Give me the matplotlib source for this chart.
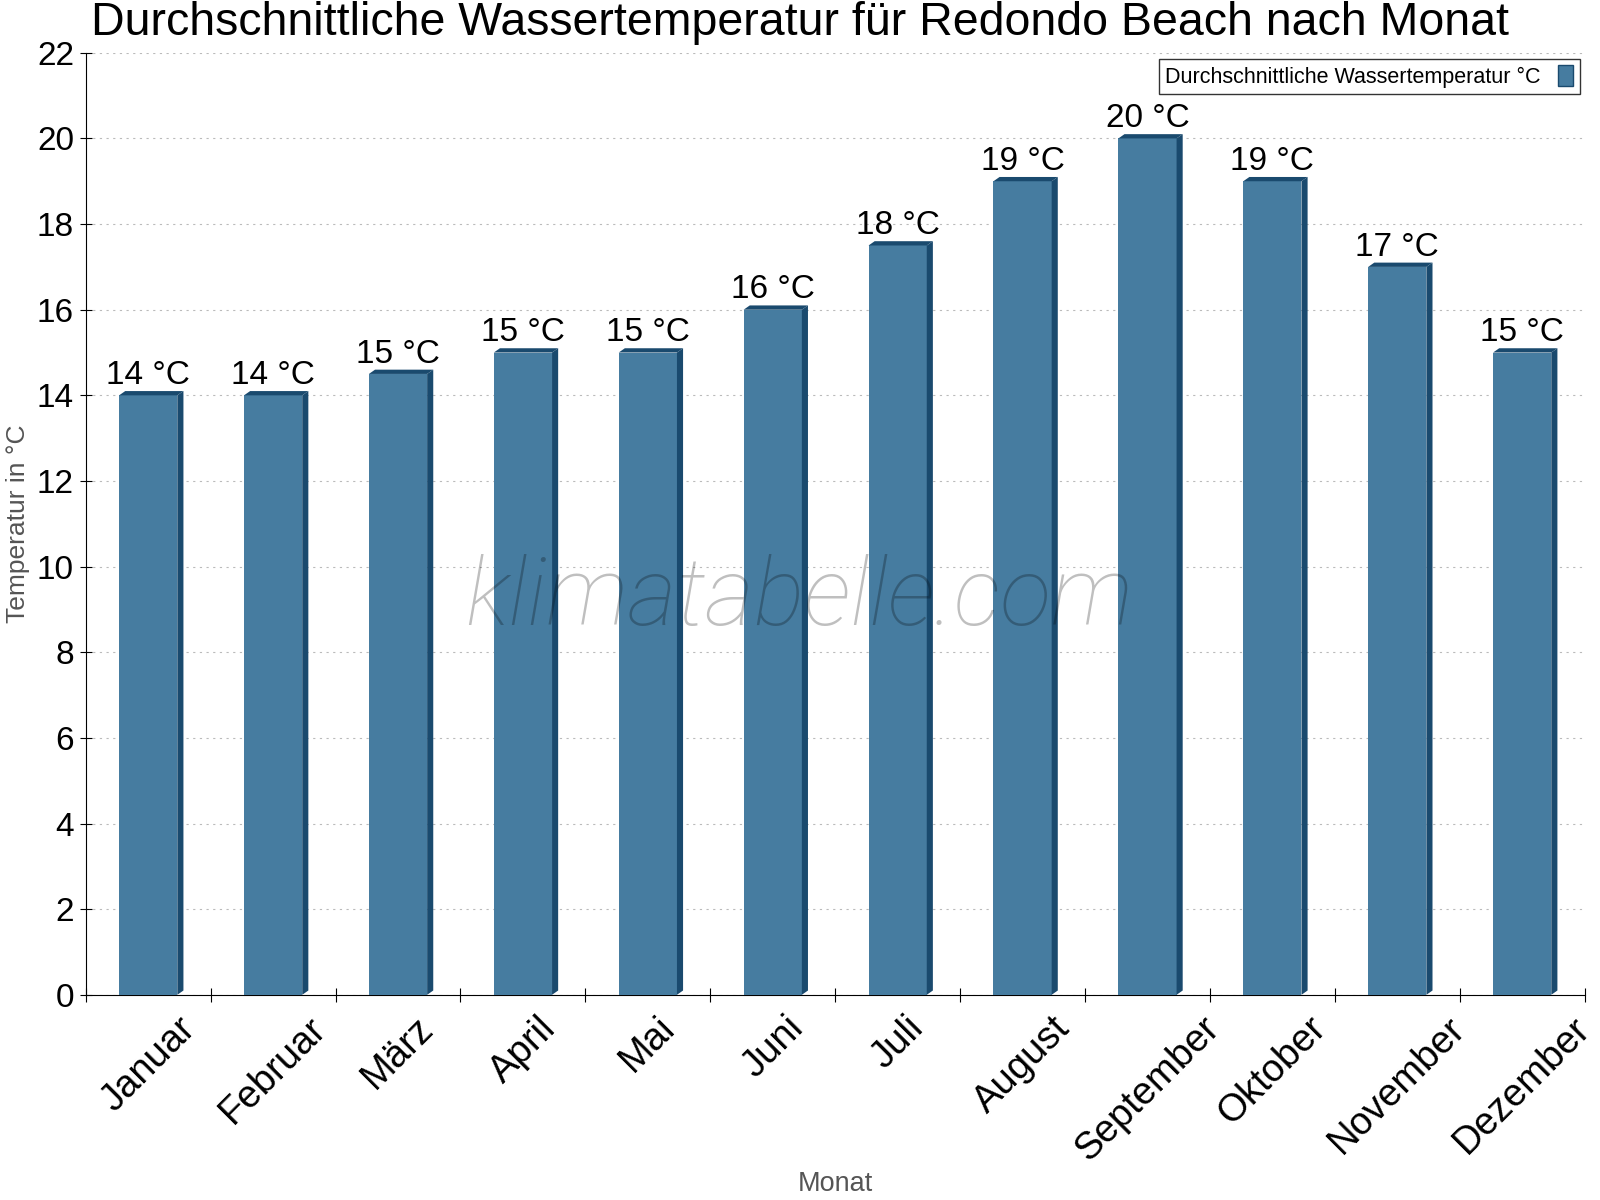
import matplotlib
matplotlib.use("Agg")
import matplotlib.pyplot as plt
from matplotlib.patches import Polygon

plt.rcParams['font.family'] = ['Liberation Sans', 'DejaVu Sans']

months = ["Januar", "Februar", "März", "April", "Mai", "Juni", "Juli",
          "August", "September", "Oktober", "November", "Dezember"]
temps = [14, 14, 14.5, 15, 15, 16, 17.5, 19, 20, 19, 17, 15]
labels = ["14 °C", "14 °C", "15 °C", "15 °C", "15 °C", "16 °C", "18 °C",
          "19 °C", "20 °C", "19 °C", "17 °C", "15 °C"]
yticks = list(range(0, 23, 2))

front = "#467ca0"
dark = "#1a4a6e"

fig = plt.figure(figsize=(16, 12), dpi=100)
ax = fig.add_axes([0.0536, 0.171, 0.9368, 0.785])

n = len(months)
w = 0.466
dx = 0.049
dy = 0.1
xs = list(range(n))
ax.bar(xs, temps, width=w, color=front, edgecolor="none", zorder=3)
for x, h, lab in zip(xs, temps, labels):
    xl, xr = x - w / 2, x + w / 2
    ax.add_patch(Polygon([(xl, h), (xl + dx, h + dy), (xr + dx, h + dy), (xr, h)],
                         closed=True, facecolor=dark, edgecolor="none", zorder=3))
    ax.add_patch(Polygon([(xr, 0), (xr + dx, dy), (xr + dx, h + dy), (xr, h)],
                         closed=True, facecolor=dark, edgecolor="none", zorder=3))
    ax.text(x, h + dy + 0.0, lab, ha="center", va="bottom", fontsize=24,
            color="black", zorder=4)

ax.set_xlim(-0.5, n - 0.5)
ax.set_ylim(0, 22)
ax.set_yticks(yticks)
ax.set_yticklabels([str(v) for v in yticks], fontsize=24)
ax.set_xticks([i + 0.5 for i in range(-1, n)])
ax.set_xticklabels([])
ax.set_xticks(xs, minor=True)
ax.set_xticklabels(months, minor=True, rotation=45, ha="center", va="top",
                   fontsize=27.5)
ax.tick_params(axis="x", which="minor", length=0, pad=11)
ax.tick_params(axis="x", which="major", direction="inout", length=10)
ax.tick_params(axis="y", direction="inout", length=9, pad=4)
ax.grid(axis="y", linestyle=(0, (2, 4)), color="#bbbbbb", linewidth=0.8, zorder=0)
for s in ["top", "right"]:
    ax.spines[s].set_visible(False)

ax.set_ylabel("Temperatur in °C", fontsize=19, color="#555555")
ax.yaxis.set_label_coords(-0.037, 0.5)
fig.text(0.522, 0.013, "Monat", fontsize=19.5, color="#555555", ha="center", va="center")

fig.text(0.5, 0.981, "Durchschnittliche Wassertemperatur für Redondo Beach nach Monat",
         fontsize=33.5, ha="center", va="center")

ax.text(0.476, 0.42, "klimatabelle.com", transform=ax.transAxes, fontsize=68,
        family="Roboto", weight="light", style="italic", color="black", alpha=0.25,
        ha="center", va="center", zorder=5)

handle = plt.Rectangle((0, 0), 1, 1, facecolor=front, edgecolor=dark)
leg = ax.legend([handle], ["Durchschnittliche Wassertemperatur °C"], loc="upper right",
                bbox_to_anchor=(0.9966, 0.9935), borderaxespad=0, markerfirst=False,
                fontsize=15.5, frameon=True, fancybox=False, edgecolor="black",
                handlelength=0.7, handleheight=1.1, borderpad=0.3, handletextpad=0.8)
leg.get_frame().set_linewidth(1)

fig.savefig("out.png", dpi=100)
